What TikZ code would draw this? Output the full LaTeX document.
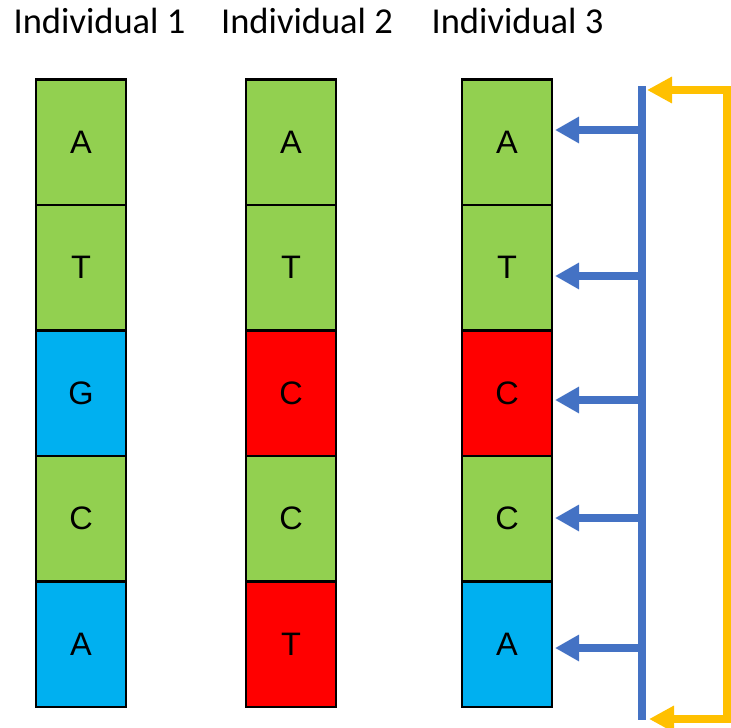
\documentclass[tikz,border=0pt]{standalone}
\usepackage{fontspec}
\setmainfont{Liberation Sans}
\newfontfamily\titlefont{Carlito}
\usetikzlibrary{arrows.meta}
\definecolor{cgreen}{HTML}{92D050}
\definecolor{cblue}{HTML}{00B0F0}
\definecolor{cred}{HTML}{FF0000}
\definecolor{barblue}{HTML}{4472C4}
\definecolor{cyellow}{HTML}{FFC000}
\tikzset{
  base/.style={draw=black, line width=2.5pt, minimum width=90pt, minimum height=125.5pt, inner sep=0pt, font=\fontsize{32.5}{38}\selectfont},
  G/.style={base, fill=cgreen},
  B/.style={base, fill=cblue},
  R/.style={base, fill=cred},
  title/.style={anchor=base, inner sep=0pt, font=\titlefont\fontsize{36.5}{42}\selectfont},
  barrow/.style={draw=barblue, line width=7.5pt, -{Triangle[length=24pt,width=25pt]}},
  yarrow/.style={draw=cyellow, line width=7.5pt, line join=miter, {Triangle[length=25pt,width=25pt]}-{Triangle[length=25pt,width=25pt]}}
}
\begin{document}
\begin{tikzpicture}[x=1pt,y=-1pt]
\useasboundingbox (0,0) rectangle (731,728);
\node[title] (t1) at (99.5,34) {Individual 1};
\node[title] (t2) at (307,34) {Individual 2};
\node[title] (t3) at (517.5,34) {Individual 3};
% column 1
\node[G] (a1) at (81,142) {A};
\node[G] (a2) at (81,267.5) {T};
\node[B] (a3) at (81,393) {G};
\node[G] (a4) at (81,518.5) {C};
\node[B] (a5) at (81,644) {A};
% column 2
\node[G] (b1) at (291,142) {A};
\node[G] (b2) at (291,267.5) {T};
\node[R] (b3) at (291,393) {C};
\node[G] (b4) at (291,518.5) {C};
\node[R] (b5) at (291,644) {T};
% column 3
\node[G] (c1) at (507,142) {A};
\node[G] (c2) at (507,267.5) {T};
\node[R] (c3) at (507,393) {C};
\node[G] (c4) at (507,518.5) {C};
\node[B] (c5) at (507,644) {A};
% blue bar
\coordinate (bartop) at (642,86);
\coordinate (barbot) at (642,720);
\draw[draw=barblue, line width=7.5pt] (bartop) -- (barbot);
\foreach \i/\y in {1/130,2/276,3/400,4/518,5/648}{
  \coordinate (s\i) at (642,\y);
  \coordinate (e\i) at (555,\y);
  \draw[barrow] (s\i) -- (e\i);
}
% yellow loop
\coordinate (ytop) at (647,90);
\coordinate (ycr1) at (727,90);
\coordinate (ycr2) at (727,719);
\coordinate (ybot) at (649,719);
\draw[yarrow] (ytop) -- (ycr1) -- (ycr2) -- (ybot);
\end{tikzpicture}
\end{document}
